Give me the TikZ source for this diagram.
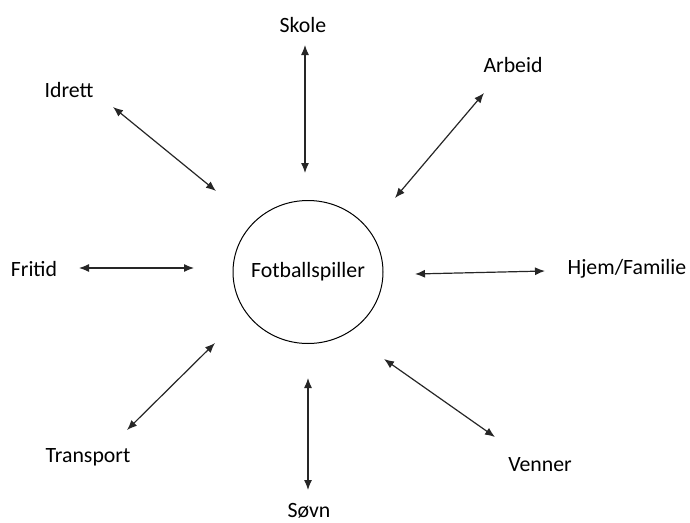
\documentclass[tikz,border=0pt]{standalone}
\usepackage{fontspec}
\setmainfont{Carlito}
\usetikzlibrary{arrows.meta,shapes.geometric}
\begin{document}
\begin{tikzpicture}[x=1pt,y=-1pt,
  lbl/.style={font=\fontsize{21.8}{25}\selectfont, inner sep=0pt},
  link/.style={{Latex[length=10pt,width=8pt]}-{Latex[length=10pt,width=8pt]}, line width=1.2pt, draw=black!85},
  hub/.style={ellipse, draw, line width=1pt, minimum width=150pt, minimum height=143pt, inner sep=0pt,
              font=\fontsize{21.8}{25}\selectfont}]
\useasboundingbox (0,0) rectangle (690,522);

% central topic (text boxed at zero width so the ring keeps its own size)
\node[hub] (c) at (308,272) {\makebox[0pt]{Fotballspiller}};

% surrounding topics
\node[lbl] (skole)  at (303,25)  {Skole};
\node[lbl] (arbeid) at (513,65)  {Arbeid};
\node[lbl] (idrett) at (69,90)   {Idrett};
\node[lbl] (fritid) at (34,269)  {Fritid};
\node[lbl] (hjem)   at (627,269) {Hjem/Familie};
\node[lbl] (transp) at (88,457)  {Transport};
\node[lbl] (venner) at (540,465) {Venner};
\node[lbl] (sovn)   at (309,511) {Søvn};

% arrow end points
\coordinate (sk1) at (305,45);  \coordinate (sk2) at (305,173);
\coordinate (ar1) at (484,93);  \coordinate (ar2) at (395,198);
\coordinate (id1) at (113,107); \coordinate (id2) at (216,191);
\coordinate (fr1) at (79,268);  \coordinate (fr2) at (194,268);
\coordinate (hj1) at (415,274); \coordinate (hj2) at (545,271);
\coordinate (tr1) at (215,343); \coordinate (tr2) at (127,430);
\coordinate (ve1) at (384,359); \coordinate (ve2) at (495,437);
\coordinate (so1) at (308,378); \coordinate (so2) at (308,490);

% two-way links
\draw[link] (sk1) -- (sk2);
\draw[link] (ar1) -- (ar2);
\draw[link] (id1) -- (id2);
\draw[link] (fr1) -- (fr2);
\draw[link] (hj1) -- (hj2);
\draw[link] (tr1) -- (tr2);
\draw[link] (ve1) -- (ve2);
\draw[link] (so1) -- (so2);
\end{tikzpicture}
\end{document}
